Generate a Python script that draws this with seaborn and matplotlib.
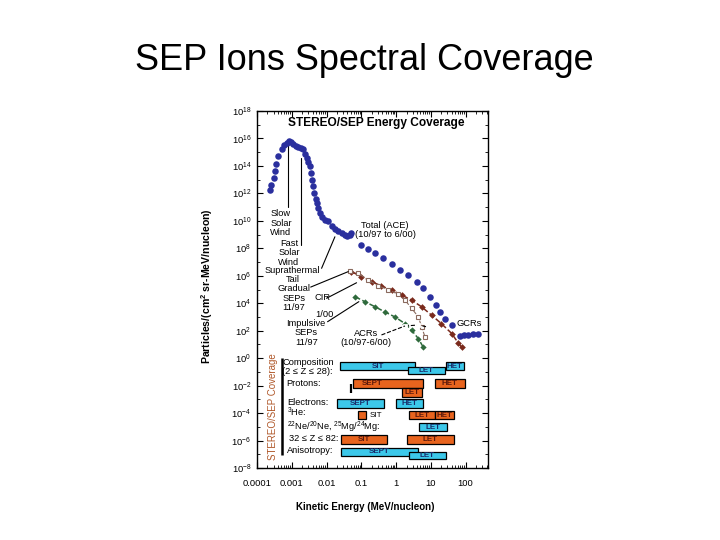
import numpy as np
import matplotlib
matplotlib.use("Agg")
import matplotlib.pyplot as plt
import seaborn as sns

# %%
# ACE total spectrum (10/97 to 6/00)
total_e = [2.3e-4, 2.5e-4, 3.0e-4, 3.3e-4, 3.5e-4, 4.1e-4, 5.1e-4, 6.0e-4, 7.1e-4, 8.3e-4,
           9.5e-4, 1.1e-3, 1.3e-3, 1.55e-3, 1.8e-3, 2.1e-3, 2.4e-3, 2.7e-3, 3.0e-3, 3.3e-3,
           3.6e-3, 3.9e-3, 4.2e-3, 4.5e-3, 4.9e-3, 5.2e-3, 5.8e-3, 6.5e-3, 7.6e-3, 8.9e-3,
           1.1e-2, 1.4e-2, 1.8e-2, 2.2e-2, 2.8e-2, 3.4e-2, 4.0e-2, 4.7e-2, 5.2e-2,
           0.10, 0.16, 0.25, 0.43, 0.74, 1.3, 2.2, 3.9, 6.0, 9.3, 14, 18, 25, 40,
           68, 89, 117, 158, 229]
total_flux = [1.9e12, 4e12, 1.4e13, 4.3e13, 1.3e14, 5.4e14, 1.6e15, 3.2e15, 5e15, 6.8e15,
              5.2e15, 3.8e15, 3.0e15, 2.5e15, 2.0e15, 1.6e15, 7.9e14, 3.9e14, 2.0e14, 9.8e13,
              3.2e13, 1.0e13, 3.2e12, 1.1e12, 4e11, 2e11, 8e10, 3.8e10, 2e10, 1.2e10,
              9.3e9, 4e9, 2.5e9, 1.7e9, 1.26e9, 1e9, 8e8, 1e9, 1.3e9,
              1.8e8, 8.7e7, 4.5e7, 1.9e7, 6.9e6, 2.6e6, 1.15e6, 3.7e5, 1.2e5, 3e4, 7.2e3, 2.3e3, 760, 250,
              39, 45, 51, 56, 62]

# Gradual SEPs 11/97
grad_e = [0.052, 0.10, 0.20, 0.38, 0.74, 1.45, 2.8, 5.4, 10.5, 20, 40, 62, 78]
grad_flux = [2.0e6, 8.7e5, 3.7e5, 1.8e5, 9.1e4, 3.9e4, 1.7e4, 5.5e3, 1.35e3, 330, 62, 12, 6]

# CIR 1/00
cir_e = [0.047, 0.081, 0.16, 0.31, 0.59, 1.15, 1.8, 2.8, 4.4, 5.4, 6.8]
cir_flux = [2.3e6, 1.5e6, 4.9e5, 1.8e5, 1.0e5, 4.4e4, 1.7e4, 4.2e3, 1.0e3, 190, 35]

# Impulsive SEPs 11/97
imp_e = [0.066, 0.126, 0.25, 0.48, 0.93, 1.8, 2.8, 4.4, 6.0]
imp_flux = [3e4, 1.3e4, 5.5e3, 2.3e3, 1.0e3, 330, 107, 26, 6.5]

# ACRs
acr_e = [1.8, 4.3, 8.1]
acr_flux = [220, 260, 185]

# instrument coverage bars
bar_inst = ["SIT", "HET", "LET",
            "SEPT", "HET", "LET",
            "SEPT", "HET",
            "SIT", "LET", "HET",
            "LET",
            "SIT", "LET",
            "SEPT", "LET"]
bar_e_lo = [0.0245, 27, 2.2,
            0.057, 13, 1.5,
            0.020, 1.0,
            0.079, 2.3, 13,
            4.5,
            0.026, 2.0,
            0.026, 2.3]
bar_e_hi = [3.5, 89, 25,
            5.9, 96, 5.5,
            0.45, 5.9,
            0.14, 13, 46,
            29,
            0.55, 46,
            4.3, 27]
bar_f_lo = [0.13, 0.13, 0.066,
            0.0068, 0.0068, 0.0015,
            2.3e-4, 2.3e-4,
            3.7e-5, 3.7e-5, 3.7e-5,
            4.9e-6,
            5.6e-7, 5.6e-7,
            7.4e-8, 4.5e-8]
bar_f_hi = [0.55, 0.55, 0.24,
            0.030, 0.030, 0.0068,
            1.05e-3, 1.05e-3,
            1.4e-4, 1.4e-4, 1.4e-4,
            1.9e-5,
            2.5e-6, 2.5e-6,
            2.9e-7, 1.45e-7]
bar_kind = ["c", "c", "c",
            "o", "o", "o",
            "c", "c",
            "o", "o", "o",
            "c",
            "o", "o",
            "c", "c"]

row_labels = ["Composition\n(2 \u2264 Z \u2264 28):", "Protons:", "Electrons:", "$^3$He:",
              "$^{22}$Ne/$^{20}$Ne, $^{25}$Mg/$^{24}$Mg:", "32 \u2264 Z \u2264 82:", "Anisotropy:"]

x_ticks = [1e-4, 1e-3, 1e-2, 0.1, 1, 10, 100]
x_ticklabels = ["0.0001", "0.001", "0.01", "0.1", "1", "10", "100"]

# %%
sns.set_style("ticks", {"xtick.direction": "in", "ytick.direction": "in",
                        "axes.edgecolor": "black", "xtick.color": "black",
                        "ytick.color": "black", "text.color": "black",
                        "axes.labelcolor": "black"})
plt.rcParams["font.family"] = ["Liberation Sans", "DejaVu Sans"]
plt.rcParams["mathtext.default"] = "regular"

blue = "#2a2f9e"
brown = "#7a2a1c"
green = "#2f6a3c"
circ = "#8a6a5e"
cyan = "#3cc8ea"
orange = "#e8641e"
txt_c = {"c": "#1a2d6b", "o": "#5e1a0c"}
fill_c = {"c": cyan, "o": orange}

fig = plt.figure(figsize=(7.2, 5.4), dpi=100)
fig.text(0.506, 0.8705, "SEP Ions Spectral Coverage", ha="center", va="baseline",
         fontsize=26, color="black")

ax = fig.add_axes([257 / 720, 72 / 540, 231 / 720, 357 / 540])
ax.set_xscale("log")
ax.set_yscale("log")
ax.set_xlim(1e-4, 440)
ax.set_ylim(1e-8, 1e18)

# spectra
sns.scatterplot(x=total_e, y=total_flux, ax=ax, color=blue, s=22, linewidth=0, zorder=3)
sns.lineplot(x=grad_e, y=grad_flux, ax=ax, color=brown, marker="D", markersize=3.4,
             markeredgewidth=0, linestyle="--", linewidth=1.1, sort=False, estimator=None)
sns.lineplot(x=cir_e, y=cir_flux, ax=ax, color=circ, marker="s", markersize=3,
             markerfacecolor="white", markeredgecolor=circ, markeredgewidth=0.8,
             linestyle="--", linewidth=0.8, sort=False, estimator=None)
sns.lineplot(x=imp_e, y=imp_flux, ax=ax, color=green, marker="D", markersize=3.2,
             markeredgewidth=0, linestyle="--", linewidth=1.1, sort=False, estimator=None)
sns.lineplot(x=acr_e, y=acr_flux, ax=ax, color="black", marker="s", markersize=2.5,
             markerfacecolor="white", markeredgewidth=0.6, linestyle="--", linewidth=0.8,
             sort=False, estimator=None)

# coverage bars
for i in range(len(bar_inst)):
    k = bar_kind[i]
    ax.bar(x=bar_e_lo[i], height=bar_f_hi[i] - bar_f_lo[i], width=bar_e_hi[i] - bar_e_lo[i],
           bottom=bar_f_lo[i], align="edge", color=fill_c[k],
           edgecolor="black", linewidth=0.9, zorder=4)
    xc = np.sqrt(bar_e_lo[i] * bar_e_hi[i])
    yc = np.sqrt(bar_f_lo[i] * bar_f_hi[i])
    if bar_inst[i] == "SEPT" and k == "o":
        xc = 0.2
    if bar_e_hi[i] / bar_e_lo[i] < 2:
        ax.text(0.175, yc, bar_inst[i], fontsize=5.8, ha="left", va="center", zorder=5)
        continue
    ax.text(xc, yc, bar_inst[i], fontsize=5.8, fontweight="bold", color=txt_c[k],
            ha="center", va="center", zorder=5)

ax.vlines(0.05, 0.0029, 0.013, color="black", linewidth=1.6, zorder=5)

# row labels
row_x = [5.4e-4, 6.8e-4, 7.3e-4, 7.3e-4, 7.3e-4, 8.3e-4, 7.3e-4]
row_y = [0.22, 0.0155, 6.4e-4, 1.2e-4, 9.6e-6, 1.5e-6, 2.0e-7]
for lab, xx, yy in zip(row_labels, row_x, row_y):
    ax.text(xx, yy, lab, fontsize=6.7, ha="left", va="center", linespacing=1.0)

ax.vlines(5.1e-4, 9e-8, 1.0, color="black", linewidth=1.8)
ax.text(2.9e-4, 2.8e-4, "STEREO/SEP Coverage", rotation=90, fontsize=7,
        color="#b0582a", ha="center", va="center")

# annotations
ax.text(0.515, 0.965, "STEREO/SEP Energy Coverage", transform=ax.transAxes,
        fontsize=8.6, fontweight="bold", ha="center", va="center")
ann = dict(fontsize=6.7, ha="center", va="center", linespacing=1.05)
ax.text(4.9e-4, 6.9e9, "Slow\nSolar\nWind", **ann)
ax.text(8.3e-4, 4.6e7, "Fast\nSolar\nWind", **ann)
ax.text(1.07e-3, 1.15e6, "Suprathermal\nTail", **ann)
ax.text(1.15e-3, 2.4e4, "Gradual\nSEPs\n11/97", **ann)
ax.text(7.9e-3, 2.8e4, "CIR", **ann)
ax.text(8.9e-3, 1.6e3, "1/00", **ann)
ax.text(2.6e-3, 68, "Impulsive\nSEPs\n11/97", **ann)
ax.text(0.48, 2.1e9, "Total (ACE)\n(10/97 to 6/00)", **ann)
ax.text(123, 360, "GCRs", **ann)
ax.text(0.135, 30, "ACRs\n(10/97-6/00)", **ann)

ax.plot([7.8e-4, 7.8e-4], [3.3e15, 1e11], color="black", linewidth=0.8)
ax.plot([1.9e-3, 1.9e-3], [3.8e14, 1.7e8], color="black", linewidth=0.8)
ax.plot([7.2e-3, 1.74e-2], [3.5e6, 6.9e8], color="black", linewidth=0.8)
ax.plot([3.5e-3, 4.2e-2], [1.5e5, 2e6], color="black", linewidth=0.8)
ax.plot([1.0e-2, 7.3e-2], [2.3e4, 3.1e5], color="black", linewidth=0.8)
ax.plot([1.07e-2, 8.5e-2], [450, 1.3e4], color="black", linewidth=0.8)
ax.plot([0.38, 1.8], [49, 220], color="black", linewidth=0.8, linestyle="--")

# axes styling
ax.set_xticks(x_ticks)
ax.set_xticklabels(x_ticklabels)
ax.xaxis.set_minor_locator(matplotlib.ticker.LogLocator(base=10, subs=np.arange(2, 10), numticks=20))
ax.xaxis.set_minor_formatter(matplotlib.ticker.NullFormatter())
ax.set_yticks([10.0 ** p for p in range(-8, 19, 2)])
ax.yaxis.set_minor_locator(matplotlib.ticker.FixedLocator([10.0 ** p for p in range(-7, 18, 2)]))
ax.yaxis.set_minor_formatter(matplotlib.ticker.NullFormatter())
ax.tick_params(which="both", direction="in", top=True, right=True, labelsize=6.8)
ax.tick_params(which="major", length=4, width=0.8)
ax.tick_params(which="minor", length=2, width=0.6)
ax.tick_params(axis="x", pad=8)
ax.tick_params(axis="y", pad=4)
for s in ax.spines.values():
    s.set_linewidth(1.0)

ax.set_xlabel("Kinetic Energy (MeV/nucleon)", fontsize=7, fontweight="bold")
ax.set_ylabel("Particles/(cm$^2$ sr-MeV/nucleon)", fontsize=7.6, fontweight="bold")
ax.xaxis.set_label_coords(0.47, -0.095)
ax.yaxis.set_label_coords(-0.18, 0.51)

plt.savefig("out.png", dpi=100)
